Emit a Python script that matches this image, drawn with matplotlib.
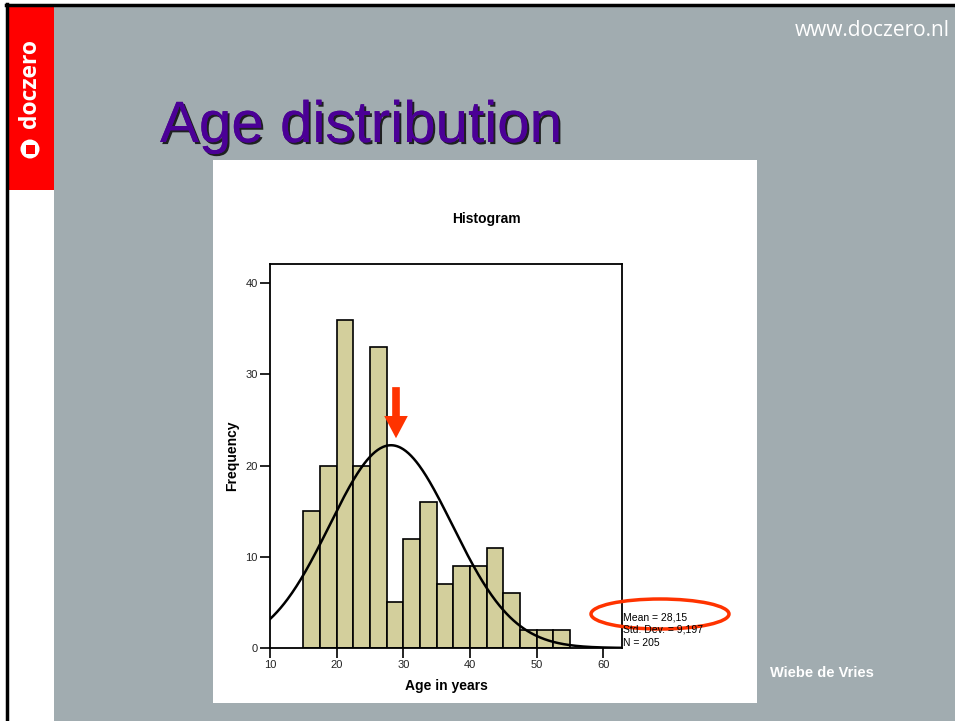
import matplotlib
matplotlib.use('Agg')
import matplotlib.pyplot as plt
import matplotlib.patheffects as pe
from matplotlib.patches import Rectangle, Ellipse, Circle
import numpy as np

plt.rcParams['font.family'] = ['Liberation Sans', 'DejaVu Sans']

# histogram data (age bins of 2.5 years)
bin_edges = [15, 17.5, 20, 22.5, 25, 27.5, 30, 32.5, 35, 37.5, 40, 42.5, 45, 47.5, 50, 52.5, 55]
counts = [15, 20, 36, 20, 33, 5, 12, 16, 7, 9, 9, 11, 6, 2, 2, 2]
mean_age = 28.15
sd_age = 9.197
n_total = 205
x_ticks = [10, 20, 30, 40, 50, 60]
y_ticks = [0, 10, 20, 30, 40]

W, H = 955, 721
fig = plt.figure(figsize=(W / 100, H / 100), dpi=100)
fig.patch.set_facecolor('white')

def px(x, y, w, h):
    # pixel box (top-left origin) -> figure fraction
    return [x / W, 1 - (y + h) / H, w / W, h / H]

bg = fig.add_axes([0, 0, 1, 1], zorder=0)
bg.set_xlim(0, W)
bg.set_ylim(H, 0)
bg.axis('off')
bg.add_patch(Rectangle((7, 5), W, H, facecolor='#a1acb0', edgecolor='none'))
bg.plot([6, W], [4.5, 4.5], color='black', lw=2.5)
bg.plot([6.5, 6.5], [4, H], color='black', lw=2.5)
bg.add_patch(Rectangle((8, 6), 46, 184, facecolor='#ff0000', edgecolor='none'))
bg.add_patch(Rectangle((8, 190), 46, H, facecolor='white', edgecolor='none'))
bg.add_patch(Circle((30, 149), 9.5, facecolor='white', edgecolor='none'))
bg.add_patch(Rectangle((25.5, 144.5), 9, 9, facecolor='#ff0000', edgecolor='none'))
bg.text(30, 84, 'doczero', rotation=90, color='white', fontsize=16.5, fontweight='bold',
        family=['Open Sans', 'DejaVu Sans'], ha='center', va='center')
bg.text(950, 30, 'www.doczero.nl', color='white', fontsize=15,
        family=['Open Sans', 'DejaVu Sans'], ha='right', va='center')
bg.text(160, 127, 'Age distribution', color='#4b0096', fontsize=42, ha='left', va='center',
        path_effects=[pe.withSimplePatchShadow(offset=(1.5, -1.5), shadow_rgbFace='#111111', alpha=0.9),
                      pe.Normal()])
bg.add_patch(Rectangle((213, 160), 544, 543, facecolor='white', edgecolor='none'))
bg.text(770, 673, 'Wiebe de Vries', color='white', fontsize=10.5, fontweight='bold',
        ha='left', va='center')
bg.text(486, 219, 'Histogram', fontsize=10, fontweight='bold', ha='center', va='center')

ax = fig.add_axes(px(270, 264, 352, 384), zorder=1)
ax.set_facecolor('white')
widths = np.diff(bin_edges)
ax.bar(bin_edges[:-1], counts, width=widths, align='edge', color='#d3cf9c',
       edgecolor='black', linewidth=1.2, zorder=2)
xs = np.linspace(10, 62.8, 400)
ys = n_total * 2.5 / (sd_age * np.sqrt(2 * np.pi)) * np.exp(-0.5 * ((xs - mean_age) / sd_age) ** 2)
ax.plot(xs, ys, color='black', lw=1.8, zorder=3)
ax.set_xlim(10, 62.8)
ax.set_ylim(0, 42.1)
ax.set_xticks(x_ticks)
ax.set_yticks(y_ticks)
ax.tick_params(direction='out', length=7, width=1.2, labelsize=8, pad=2, labelcolor='#222222')
for s in ax.spines.values():
    s.set_linewidth(1.3)
ax.set_xlabel('Age in years', fontsize=10, fontweight='bold', labelpad=6)
ax.set_ylabel('Frequency', fontsize=10, fontweight='bold', labelpad=4)

# red arrow pointing at the curve peak
ax.annotate('', xy=(28.9, 23.0), xytext=(28.9, 28.6),
            arrowprops=dict(width=5.5, headwidth=17, headlength=16, shrink=0,
                            color='#ff3300', lw=0), zorder=4, annotation_clip=False)

# overlay for stats text and ellipse
top = fig.add_axes([0, 0, 1, 1], zorder=2)
top.set_xlim(0, W)
top.set_ylim(H, 0)
top.axis('off')
top.patch.set_visible(False)
top.text(623, 617, 'Mean = %s' % str(mean_age).replace('.', ','), fontsize=7.5, ha='left', va='center')
top.text(623, 630, 'Std. Dev. = %s' % str(sd_age).replace('.', ','), fontsize=7.5, ha='left', va='center')
top.text(623, 643, 'N = %d' % n_total, fontsize=7.5, ha='left', va='center')
top.add_patch(Ellipse((660, 614), 138, 30, facecolor='none', edgecolor='#ff3300', lw=2.5))

fig.savefig('out.png', dpi=100)
